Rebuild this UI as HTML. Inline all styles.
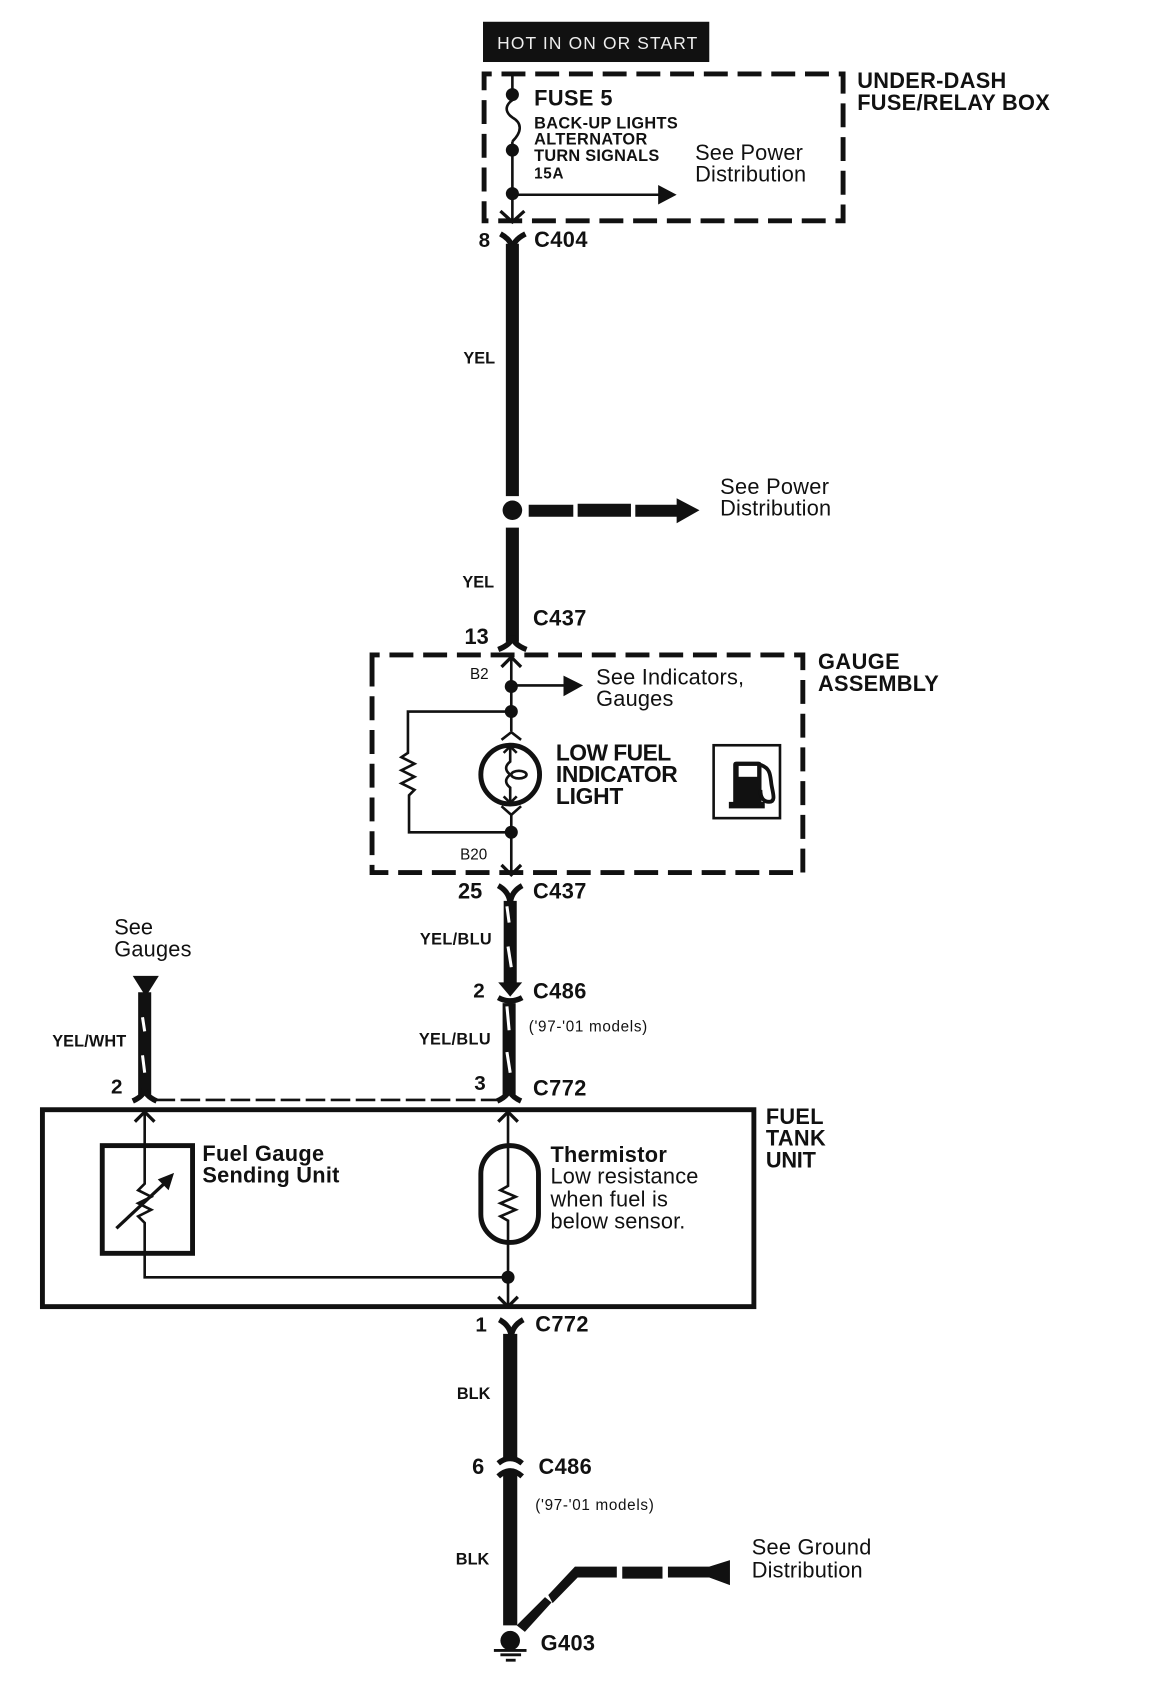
<!DOCTYPE html>
<html><head><meta charset="utf-8"><title>Fuel gauge wiring diagram</title>
<style>
html,body{margin:0;padding:0;background:#fff;width:1164px;height:1707px;overflow:hidden}
svg{display:block}
text{font-family:"Liberation Sans",sans-serif;fill:#111;transform:translate(1px,1px)}
.b{font-weight:bold}
.r{font-size:20px}
.l{font-size:20px;font-weight:bold}
.w{font-size:15px;font-weight:bold}
.t{fill:none;stroke:#111;stroke-width:2.4}
.m{fill:none;stroke:#111;stroke-width:4.5}
.f{fill:none;stroke:#111;stroke-width:5}
.h{fill:none;stroke:#111;stroke-width:12}
.s{stroke:#fff;stroke-width:2.8;fill:none}
.d{fill:none;stroke:#111;stroke-width:4.5;stroke-dasharray:22 9}
</style></head><body>
<svg width="1164" height="1707" viewBox="0 0 1070 1569" preserveAspectRatio="none" xmlns="http://www.w3.org/2000/svg">
<rect width="1070" height="1569" fill="#fff"/>

<!-- Header -->
<rect x="444" y="20" width="208" height="37" fill="#111"/>
<text x="456" y="44" font-size="16" textLength="184" lengthAdjust="spacing" style="fill:#eee">HOT IN ON OR START</text>

<!-- Fuse box -->
<path class="d" d="M445 83V68H775V203H445V83"/>
<path class="t" d="M471 68V88M471 130V203"/>
<path class="t" d="M471 92C464 97 464 103 471 108C480 113 480 121 471 130"/>
<circle cx="471" cy="87" r="6" fill="#111"/>
<circle cx="471" cy="138" r="6" fill="#111"/>
<circle cx="471" cy="178" r="6" fill="#111"/>
<path class="t" d="M471 179H606"/>
<path d="M605 170L622 179L605 188Z" fill="#111"/>
<path class="t" d="M460 194L471 204L482 194" style="stroke-width:3"/>
<text x="490" y="96" font-size="20" class="b" textLength="72">FUSE 5</text>
<text x="490" y="117" font-size="15" class="b" textLength="132">BACK-UP LIGHTS</text>
<text x="490" y="132" font-size="15" class="b" textLength="104">ALTERNATOR</text>
<text x="490" y="147" font-size="15" class="b" textLength="115">TURN SIGNALS</text>
<text x="490" y="163" font-size="14" class="b" textLength="27">15A</text>
<text x="638" y="146" class="r" textLength="99">See Power</text>
<text x="638" y="166" class="r" textLength="102">Distribution</text>
<text x="787" y="80" class="l" textLength="137">UNDER-DASH</text>
<text x="787" y="100" class="l" textLength="177">FUSE/RELAY BOX</text>

<!-- C404 -->
<text x="439" y="226" font-size="19" class="b">8</text>
<text x="490" y="226" class="l" textLength="49">C404</text>
<path class="f" d="M460 215Q471 221 471 230Q471 221 483 215"/>
<path class="h" d="M471 224V456"/>
<text x="425" y="333" class="w">YEL</text>

<!-- Splice -->
<circle cx="471" cy="469" r="9" fill="#111"/>
<path d="M486 464H527V475H486ZM531 463H580V475H531ZM584 464H622V458L643 469L622 481V475H584Z" fill="#111"/>
<text x="661" y="453" class="r" textLength="100">See Power</text>
<text x="661" y="473" class="r" textLength="102">Distribution</text>
<path class="h" d="M471 485V590"/>
<text x="424" y="539" class="w">YEL</text>
<text x="489" y="574" class="l" textLength="49">C437</text>
<text x="426" y="591" font-size="20" class="b">13</text>
<path class="f" d="M458 597Q471 592 471 584Q471 592 484 597"/>

<!-- Gauge assembly -->
<path class="d" d="M342 617V602H738V802H342V617"/>
<path class="t" d="M470 604V672M470 748V802"/>
<path class="t" d="M461 613L470 604L479 613M461 795L470 804L479 795" style="stroke-width:3"/>
<circle cx="470" cy="631" r="6" fill="#111"/>
<path class="t" d="M470 630H520"/>
<path d="M518 621L536 630L518 640Z" fill="#111"/>
<circle cx="470" cy="654" r="6" fill="#111"/>
<circle cx="470" cy="765" r="6" fill="#111"/>
<path class="t" d="M470 654H375V692L369 696L381 702L369 708L381 714L369 720L381 726L376 731V765H470"/>
<path class="t" d="M461 680L470 673L479 680M461 741L470 749L479 741"/>
<circle cx="469" cy="712" r="27" class="m"/>
<path class="t" d="M469 686V700C464 704 464 708 469 712C464 716 464 720 469 724V738"/>
<ellipse cx="477" cy="712" rx="7" ry="3.5" class="t"/>
<path class="t" d="M463 692L469 686L475 692M463 732L469 738L475 732"/>
<text x="431" y="623" font-size="14">B2</text>
<text x="422" y="789" font-size="14">B20</text>
<text x="547" y="628" class="r" textLength="136">See Indicators,</text>
<text x="547" y="648" class="r" textLength="71">Gauges</text>
<text x="510" y="698" font-size="21" class="b" textLength="106">LOW FUEL</text>
<text x="510" y="718" font-size="21" class="b" textLength="112">INDICATOR</text>
<text x="510" y="738" font-size="21" class="b" textLength="62">LIGHT</text>
<rect x="656" y="685" width="61" height="67" class="t"/>
<path d="M676 700H697Q700 700 700 703V737H703V743H670V737H674V703Q674 700 677 700Z" fill="#111"/>
<rect x="679" y="704" width="17" height="10" fill="#fff"/>
<path class="t" d="M699 703C708 706 708 712 709 720C710 728 714 737 707 737C701 737 699 732 699 726" style="stroke-width:3.5"/>
<text x="751" y="614" class="l" textLength="75">GAUGE</text>
<text x="751" y="634" class="l" textLength="111">ASSEMBLY</text>

<!-- C437 / C486 yel/blu -->
<text x="420" y="825" font-size="20" class="b">25</text>
<text x="489" y="825" class="l" textLength="49">C437</text>
<path class="f" d="M458 814Q469 820 469 832Q469 820 480 814"/>
<path class="h" d="M469 828V905"/>
<path class="s" d="M466 833L468 848M467 870L470 889"/>
<text x="385" y="867" class="w" textLength="66">YEL/BLU</text>
<text x="434" y="916" font-size="19" class="b">2</text>
<text x="489" y="917" class="l" textLength="49">C486</text>
<path d="M458 903L469 916L480 903Z" fill="#111"/>
<path class="f" d="M458 917Q469 923 480 917"/>
<path class="h" d="M468 922V1006"/>
<path class="s" d="M466 925L468 947M466 967L469 986"/>
<text x="384" y="959" class="w" textLength="66">YEL/BLU</text>
<text x="485" y="947" font-size="14" textLength="109">('97-'01 models)</text>
<text x="435" y="1001" font-size="19" class="b">3</text>
<text x="489" y="1006" class="l" textLength="49">C772</text>
<path class="f" d="M457 1012Q468 1007 468 1000Q468 1007 479 1012"/>

<!-- See gauges -->
<text x="104" y="858" class="r">See</text>
<text x="104" y="878" class="r" textLength="71">Gauges</text>
<path d="M122 897H146L134 916Z" fill="#111"/>
<path class="h" d="M133 912V1006"/>
<path class="s" d="M131 935L133 948M131 970L133 986"/>
<text x="47" y="961" class="w" textLength="68">YEL/WHT</text>
<text x="101" y="1004" font-size="19" class="b">2</text>
<path class="f" d="M122 1012Q133 1007 133 1000Q133 1007 144 1012"/>
<path class="t" d="M143 1011H460" stroke-dasharray="18 5"/>

<!-- Fuel tank unit -->
<rect x="39" y="1020" width="654" height="181" class="m"/>
<path class="t" d="M133 1022V1088L127 1094L139 1100L127 1106L139 1112L127 1118L133 1124V1174H467"/>
<path class="t" d="M467 1022V1090L460 1094L474 1100L460 1106L474 1112L460 1118L467 1122V1201"/>
<path class="t" d="M124 1031L133 1022L142 1031M458 1031L467 1022L476 1031M458 1192L467 1201L476 1192" style="stroke-width:3"/>
<circle cx="467" cy="1174" r="6" fill="#111"/>
<rect x="94" y="1053" width="83" height="99" class="m"/>
<path class="t" d="M107 1129L152 1087" style="stroke-width:3"/>
<path d="M160 1078L155 1094L145 1084Z" fill="#111"/>
<rect x="442" y="1053" width="53" height="89" rx="26" ry="26" class="m"/>
<text x="185" y="1066" class="l" textLength="112">Fuel Gauge</text>
<text x="185" y="1086" class="l" textLength="126">Sending Unit</text>
<text x="505" y="1067" class="l" textLength="107">Thermistor</text>
<text x="505" y="1087" class="r" textLength="136">Low resistance</text>
<text x="505" y="1108" class="r" textLength="108">when fuel is</text>
<text x="505" y="1128" class="r" textLength="124">below sensor.</text>
<text x="703" y="1032" class="l" textLength="53">FUEL</text>
<text x="703" y="1052" class="l" textLength="55">TANK</text>
<text x="703" y="1072" class="l" textLength="46">UNIT</text>

<!-- Bottom -->
<text x="436" y="1223" font-size="19" class="b">1</text>
<text x="491" y="1223" class="l" textLength="49">C772</text>
<path class="f" d="M459 1213Q470 1219 470 1230Q470 1219 481 1213"/>
<path class="h" d="M469 1226V1342" style="stroke-width:13"/>
<path class="f" d="M458 1345Q469 1336 480 1345"/>
<path class="f" d="M458 1357Q469 1347 480 1357"/>
<path class="h" d="M469 1352V1494" style="stroke-width:13"/>
<text x="433" y="1354" font-size="20" class="b">6</text>
<text x="494" y="1354" class="l" textLength="49">C486</text>
<text x="491" y="1387" font-size="14" textLength="109">('97-'01 models)</text>
<text x="419" y="1285" class="w">BLK</text>
<text x="418" y="1437" class="w">BLK</text>
<path d="M475 1494L501 1468L507 1473L482.500 1500ZM504 1466L528.500 1440H567V1450H531L508 1473.500Z" fill="#111"/>
<path d="M572 1440H609V1451H572ZM614 1440H652L671 1434V1457L652 1450H614Z" fill="#111"/>
<text x="690" y="1428" class="r" textLength="110">See Ground</text>
<text x="690" y="1449" class="r" textLength="102">Distribution</text>
<circle cx="469" cy="1508" r="9" fill="#111"/>
<path class="t" d="M454 1517H484M460 1521H479" style="stroke-width:2.6"/>
<path class="t" d="M465 1526H474" style="stroke-width:2.6"/>
<text x="496" y="1516" class="l" textLength="50">G403</text>
</svg>
</body></html>
